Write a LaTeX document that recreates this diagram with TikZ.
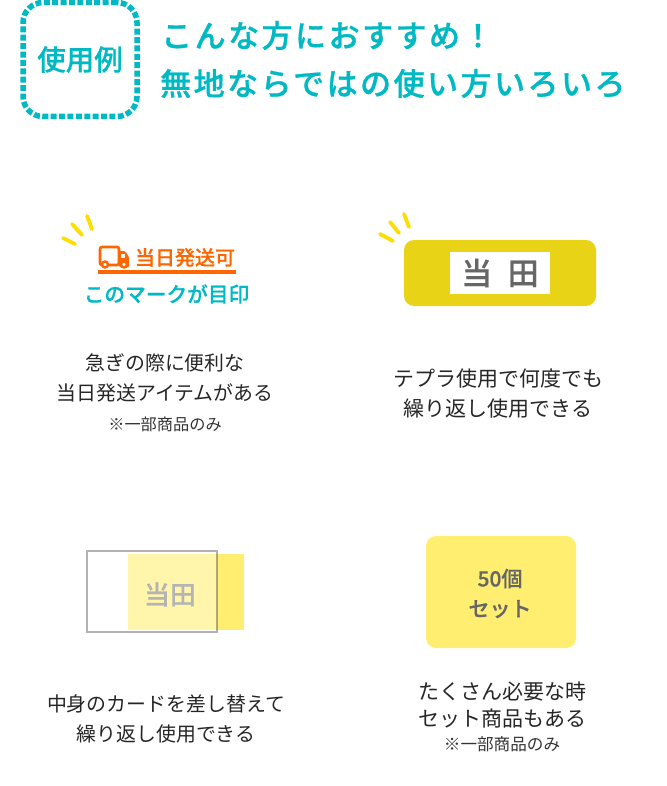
\documentclass[tikz,border=0pt]{standalone}
\usepackage{fontspec}
\setmainfont{Noto Sans CJK JP}
\newfontfamily\medfont[FakeBold=0.5]{Noto Sans CJK JP Medium}
\newfontfamily\headfont[LetterSpace=8,FakeBold=0.9]{Noto Sans CJK JP Medium}
\usepackage{tikz}
\usetikzlibrary{positioning}
\definecolor{teal1}{HTML}{00B9C3}
\definecolor{orange1}{HTML}{FF6600}
\definecolor{ray}{HTML}{FFDD00}
\definecolor{plate}{HTML}{E9D316}
\definecolor{card}{HTML}{FFEE6F}
\definecolor{ink}{HTML}{666666}
\definecolor{frame}{HTML}{B4B4B4}
\tikzstyle{head} = [text=teal1, font=\fontsize{31}{31}\headfont, anchor=west, inner sep=0pt]
\tikzstyle{bodyl} = [text=black!85, font=\fontsize{19.9}{30}\selectfont, align=center, inner sep=0pt]
\tikzstyle{bodyr} = [text=black!85, font=\fontsize{21}{30}\selectfont, align=center, inner sep=0pt]
\tikzstyle{note} = [text=black!80, font=\fontsize{16.2}{16}\selectfont, inner sep=0pt]
\tikzstyle{rayline} = [ray, line width=3.8pt, line cap=round]

\begin{document}
\begin{tikzpicture}[x=1pt,y=-1pt]
\useasboundingbox (0,0) rectangle (666,786);

% header
\node (badge) [draw=teal1, line width=5.5pt, dash pattern=on 6pt off 2.4pt, rounded corners=20pt, minimum width=114pt, minimum height=114pt, inner sep=0pt, text=teal1, font=\fontsize{28.5}{28}\medfont] at (80,59.5) {使用例};
\node (head1) [head] at (161,35.5) {こんな方におすすめ！};
\node (head2) [head] at (160,83.5) {無地ならではの使い方いろいろ};

% top left
\draw [rayline] (63,238) -- (75,244);
\draw [rayline] (72,224) -- (82,235);
\draw [rayline] (87,216) -- (92,229);
\draw [orange1, line width=2.6pt, line join=round, rounded corners=2pt] (100,265) -- (100,247) -- (119,247) -- (119,265) -- cycle;
\fill [orange1, rounded corners=1pt] (119,251) -- (125,251) -- (129,257) -- (129,267) -- (119,267) -- cycle;
\fill [white] (121,254) rectangle (125,258);
\draw [orange1, fill=white, line width=2.4pt] (105,264.5) circle (3pt);
\draw [orange1, fill=white, line width=2.4pt] (124,264.5) circle (3pt);
\node (mark) [text=orange1, font=\fontsize{20}{20}\medfont, inner sep=0pt] at (185,257.5) {当日発送可};
\draw [orange1, line width=3.6pt] (98,272) -- (236,272);
\node (markcap) [text=teal1, font=\fontsize{20.7}{20}\medfont, inner sep=0pt] at (166.5,294) {このマークが目印};
\node (txt1) [bodyl] at (165,378) {急ぎの際に便利な\\当日発送アイテムがある};
\node (note1) [note] at (165,424) {※一部商品のみ};

% top right
\draw [rayline] (380,234) -- (393,241);
\draw [rayline] (390,222) -- (399,233);
\draw [rayline] (404,214) -- (409,227);
\node (plate) [fill=plate, rounded corners=10pt, minimum width=192pt, minimum height=66pt, inner sep=0pt] at (500,273) {};
\node (label) [fill=white, text=ink, minimum width=100pt, minimum height=42pt, inner sep=0pt, font=\fontsize{31}{31}\medfont] at (500,273) {当\hspace{.5em}田};
\node (txt2) [bodyr] at (498,394) {テプラ使用で何度でも\\繰り返し使用できる};

% bottom left
\node (back) [fill=card, minimum width=116pt, minimum height=76pt, inner sep=0pt] at (186,592) {};
\node (holder) [draw=black, draw opacity=.3, fill=white, fill opacity=.42, line width=2pt, minimum width=130pt, minimum height=81pt, inner sep=0pt] at (152,591.5) {};
\node (name) [text=frame, font=\fontsize{26}{26}\medfont, inner sep=0pt] at (170,594.5) {当田};
\node (txt3) [bodyl] at (166,718.5) {中身のカードを差し替えて\\繰り返し使用できる};

% bottom right
\node (setbox) [fill=card, rounded corners=10pt, minimum width=150pt, minimum height=112pt, inner sep=0pt] at (501,592) {};
\node (settxt) [align=center, inner sep=0pt, text=ink, font=\fontsize{21}{30}\medfont] at (500,593.5) {50個\\セット};
\node (txt4) [bodyr, font=\fontsize{21}{27}\selectfont] at (502,705) {たくさん必要な時\\セット商品もある};
\node (note2) [note, font=\fontsize{16.6}{16}\selectfont] at (502,744) {※一部商品のみ};

\end{tikzpicture}
\end{document}
